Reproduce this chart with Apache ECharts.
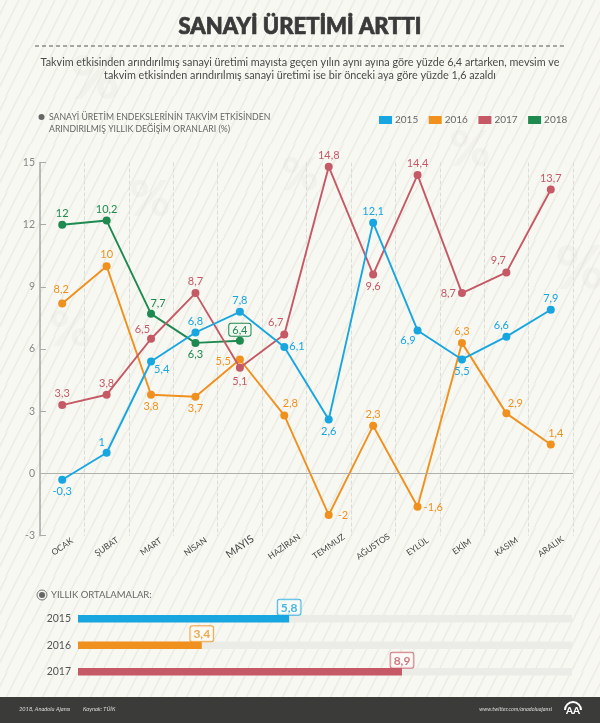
<!DOCTYPE html>
<html>
<head>
<meta charset="utf-8">
<style>html,body{margin:0;padding:0;background:#f8f8f3}#main{width:600px;height:723px}</style>
<script src="https://cdn.jsdelivr.net/npm/echarts@6/dist/echarts.min.js"></script>
</head>
<body>
<div id="main"></div>
<script>
var months = ['OCAK', 'ŞUBAT', 'MART', 'NİSAN', 'MAYIS', 'HAZİRAN', 'TEMMUZ', 'AĞUSTOS', 'EYLÜL', 'EKİM', 'KASIM', 'ARALIK'];
var values2015 = [-0.3, 1, 5.4, 6.8, 7.8, 6.1, 2.6, 12.1, 6.9, 5.5, 6.6, 7.9];
var values2016 = [8.2, 10, 3.8, 3.7, 5.5, 2.8, -2, 2.3, -1.6, 6.3, 2.9, 1.4];
var values2017 = [3.3, 3.8, 6.5, 8.7, 5.1, 6.7, 14.8, 9.6, 14.4, 8.7, 9.7, 13.7];
var values2018 = [12, 12.2, 7.7, 6.3, 6.4];
// the picture prints 10,2 next to the point drawn at 12,2
var labels2018 = ['12', '10,2', '7,7', '6,3', '6,4'];
var avgYears = ['2015', '2016', '2017'];
var avgValues = [5.8, 3.4, 8.9];

var BLUE = '#18a6e0', ORANGE = '#f0901e', RED = '#c55a66', GREEN = '#1e8a50';
var FONT = 'Lato, "Open Sans", sans-serif';

// [position, dx, dy] for each label
var T = ['top', 0, 0], B = ['bottom', 0, 0];
var place2015 = [B, ['top', -5, 1], ['right', -3, 8], T, T, ['right', -1, -1], B, T, ['left', 4, 10], B, ['top', -5, 0], T];
var place2016 = [['top', -1, -3], T, B, B, ['left', -3, 2], ['top', 6, 0], ['right', 3, 0], T, ['right', 0, 1], T, ['top', 9, 2], ['top', 5, 0]];
var place2017 = [T, T, ['left', 5, -9], T, ['bottom', 0, 2], ['left', 5, -12], T, B, T, ['left', 0, 0], ['top', -8, 0], T];
var place2018 = [T, T, ['top', 7, 1], B, T];

function comma(v) { return String(v).replace('.', ','); }

function lineSeries(name, color, values, place, z, texts) {
    return {
        name: name,
        type: 'line',
        z: z,
        xAxisIndex: 0,
        yAxisIndex: 0,
        symbol: 'circle',
        symbolSize: 8,
        itemStyle: {color: color},
        lineStyle: {color: color, width: 1.9},
        data: values.map(function (v, i) {
            var p = place[i];
            return {
                value: v,
                label: {
                    show: true,
                    position: p[0],
                    offset: [p[1], p[2]],
                    distance: 2,
                    color: color,
                    fontFamily: FONT,
                    fontSize: 11,
                    formatter: texts ? texts[i] : comma(v)
                }
            };
        })
    };
}

var tex = document.createElement('canvas');
tex.width = 48; tex.height = 48;
var g = tex.getContext('2d');
g.fillStyle = '#f8f8f3';
g.fillRect(0, 0, 48, 48);
g.strokeStyle = 'rgba(225,225,215,0.55)';
g.lineWidth = 1.5;
[[6, 0], [19, 0], [31, 0], [43, 0]].forEach(function (s) {
    for (var k = -48; k <= 48; k += 48) {
        g.beginPath();
        g.moveTo(s[0] + k + 24, 0);
        g.lineTo(s[0] + k, 48);
        g.stroke();
    }
});

function text(x, y, str, size, color, extra) {
    return {
        type: 'text',
        silent: true,
        x: x,
        y: y,
        style: Object.assign({
            text: str, fontSize: size, fill: color, fontFamily: FONT,
            textVerticalAlign: 'middle', verticalAlign: 'middle'
        }, extra || {})
    };
}

function watermark(x, y, size) {
    return text(x, y, '%', size, 'rgba(200,200,190,0.1)', {fontWeight: 900, align: 'center'});
}

var series = [
    lineSeries('2015', BLUE, values2015, place2015, 5),
    lineSeries('2016', ORANGE, values2016, place2016, 2),
    lineSeries('2017', RED, values2017, place2017, 4),
    lineSeries('2018', GREEN, values2018, place2018, 3, labels2018),
    {
        type: 'bar',
        xAxisIndex: 1,
        yAxisIndex: 1,
        barWidth: 7.5,
        showBackground: true,
        backgroundStyle: {color: '#ebebe7'},
        data: avgValues.map(function (v, i) {
            return {value: v, itemStyle: {color: [BLUE, ORANGE, RED][i]}};
        })
    },
    {
        type: 'scatter',
        xAxisIndex: 1,
        yAxisIndex: 1,
        symbolSize: 0,
        data: avgValues.map(function (v, i) {
            var c = [BLUE, ORANGE, RED][i];
            return {
                value: [v, avgYears[i]],
                label: {
                    show: true,
                    position: 'top',
                    distance: 4,
                    formatter: comma(v),
                    color: c,
                    fontFamily: FONT,
                    fontWeight: 700,
                    fontSize: 12,
                    padding: [2, 3, 1, 3],
                    borderColor: c,
                    borderWidth: 1,
                    borderRadius: 2,
                    backgroundColor: '#fbfbf8'
                }
            };
        })
    }
];

// zero line
series[1].markLine = {
    silent: true,
    symbol: 'none',
    animation: false,
    label: {show: false},
    lineStyle: {color: '#b0b0ac', type: 'solid', width: 1.2},
    data: [{yAxis: 0}]
};

// boxed label for the latest 2018 value
var last2018 = series[3].data[4].label;
last2018.borderColor = GREEN;
last2018.borderWidth = 1;
last2018.borderRadius = 2;
last2018.padding = [1, 3, 0, 3];
last2018.backgroundColor = '#f4f8f2';
last2018.distance = 1;

var option = {
    animation: false,
    backgroundColor: {image: tex, repeat: 'repeat'},
    textStyle: {fontFamily: FONT},
    legend: {
        data: ['2015', '2016', '2017', '2018'],
        left: 374,
        top: 110,
        icon: 'rect',
        itemWidth: 13,
        itemHeight: 8,
        itemGap: 10.5,
        textStyle: {color: '#666', fontSize: 10, fontFamily: FONT, padding: [0, 0, 0, -2]}
    },
    grid: [
        {left: 40, top: 162.5, width: 533, height: 373.2},
        {left: 78, top: 605.4, width: 494, height: 79.5}
    ],
    xAxis: [
        {
            type: 'category',
            gridIndex: 0,
            data: months,
            axisLine: {show: false},
            axisTick: {show: false},
            splitLine: {show: true, lineStyle: {type: 'dashed', color: '#dcdcd8', width: 1}},
            axisLabel: {
                interval: 0,
                rotate: 35,
                align: 'center',
                verticalAlign: 'middle',
                margin: 11,
                color: '#444',
                fontSize: 8.5,
                fontFamily: FONT,
                formatter: function (m) { return m === 'MAYIS' ? '{now|' + m + '}' : m; },
                rich: {now: {fontSize: 10.5, color: '#444', fontFamily: FONT}}
            }
        },
        {
            type: 'value',
            gridIndex: 1,
            min: 0,
            max: 13.57,
            show: false
        }
    ],
    yAxis: [
        {
            type: 'value',
            gridIndex: 0,
            min: -3,
            max: 15,
            interval: 3,
            axisLine: {show: true, lineStyle: {color: '#aaaaa8', width: 1.5}},
            axisTick: {show: true, inside: true, length: 6, lineStyle: {color: '#aaaaa8', width: 1}},
            splitLine: {show: false},
            axisLabel: {color: '#888', fontSize: 10.5, margin: 5, fontFamily: FONT}
        },
        {
            type: 'category',
            gridIndex: 1,
            inverse: true,
            data: avgYears,
            axisLine: {show: false},
            axisTick: {show: false},
            axisLabel: {color: '#555', fontSize: 10.5, margin: 7, fontFamily: FONT}
        }
    ],
    graphic: [
        watermark(95, 80, 60), watermark(150, 200, 50), watermark(580, 270, 60),
        watermark(70, 330, 50), watermark(300, 175, 45), watermark(470, 150, 50),
        text(300, 27, 'SANAYİ ÜRETİMİ ARTTI', 22, '#3a3a3a', {fontWeight: 900, align: 'center', stroke: '#3a3a3a', lineWidth: 0.7}),
        {
            type: 'line',
            silent: true,
            shape: {x1: 35, y1: 46, x2: 565, y2: 46},
            style: {stroke: '#555', lineWidth: 1, lineDash: [4, 3]}
        },
        text(300, 63, 'Takvim etkisinden arındırılmış sanayi üretimi mayısta geçen yılın aynı ayına göre yüzde 6,4 artarken, mevsim ve', 10.8, '#4a4a4a', {align: 'center'}),
        text(300, 75.5, 'takvim etkisinden arındırılmış sanayi üretimi ise bir önceki aya göre yüzde 1,6 azaldı', 10.8, '#4a4a4a', {align: 'center'}),
        {type: 'circle', silent: true, shape: {cx: 41.5, cy: 117, r: 3}, style: {fill: '#666'}},
        text(49, 117, 'SANAYİ ÜRETİM ENDEKSLERİNİN TAKVİM ETKİSİNDEN', 8.7, '#666'),
        text(49, 129.5, 'ARINDIRILMIŞ YILLIK DEĞİŞİM ORANLARI (%)', 8.7, '#666'),
        {type: 'circle', silent: true, shape: {cx: 42, cy: 595, r: 5}, style: {fill: 'none', stroke: '#777', lineWidth: 1}},
        {type: 'circle', silent: true, shape: {cx: 42, cy: 595, r: 3}, style: {fill: '#666'}},
        text(51, 595, 'YILLIK ORTALAMALAR:', 9.5, '#666'),
        {type: 'rect', silent: true, shape: {x: 0, y: 697, width: 600, height: 26}, style: {fill: '#3b3b39'}},
        text(19, 709, '2018, Anadolu Ajansı', 5.7, '#ddd', {fontStyle: 'italic'}),
        text(83, 709, 'Kaynak: TÜİK', 5.7, '#ddd', {fontStyle: 'italic'}),
        text(552, 709, 'www.twitter.com/anadoluajansi', 5.5, '#ddd', {fontStyle: 'italic', align: 'right'}),
        {
            type: 'arc',
            silent: true,
            shape: {cx: 573, cy: 710, r: 8, startAngle: Math.PI, endAngle: 0},
            style: {fill: 'none', stroke: '#fff', lineWidth: 2}
        },
        text(573, 711, 'AA', 10, '#fff', {fontWeight: 900, align: 'center'})
    ],
    series: series
};

var myChart = echarts.init(document.getElementById('main'));
myChart.setOption(option);
</script>
</body>
</html>
